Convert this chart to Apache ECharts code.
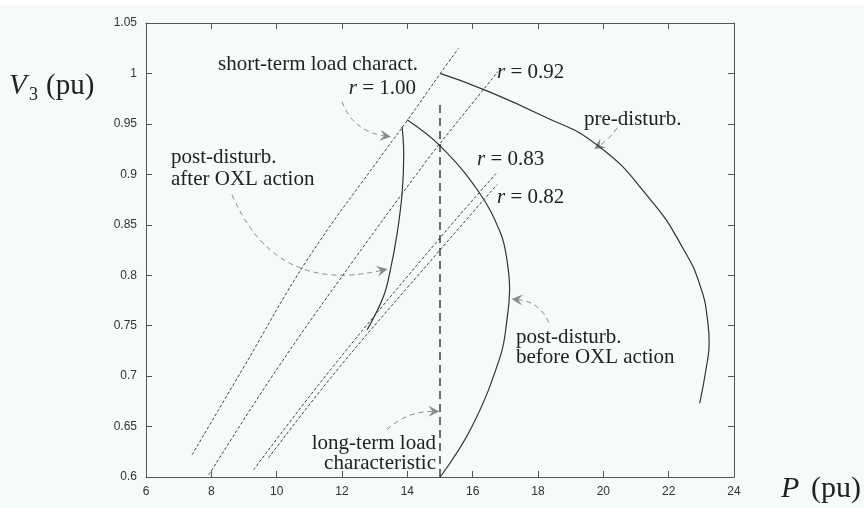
<!DOCTYPE html>
<html>
<head>
<meta charset="utf-8">
<script src="https://cdn.jsdelivr.net/npm/echarts@6.0.0/dist/echarts.min.js"></script>
<style>
    html, body { margin: 0; padding: 0; background: #f6faf8; }
    #chart { width: 864px; height: 508px; }
</style>
</head>
<body>
<div id="chart"></div>
<script>
// axis ranges / ticks
const xRange = [6, 24];
const xStep = 2;
const yRange = [0.6, 1.05];
const yStep = 0.05;

// PV curves, [P (pu), V3 (pu)]
const preDisturb = [
    [15.0, 1.0], [16.34, 0.984], [18.07, 0.959], [19.81, 0.929], [21.44, 0.875],
    [22.45, 0.826], [22.97, 0.789], [23.2, 0.753], [23.24, 0.733], [23.16, 0.71],
    [22.95, 0.673]
];
const postBeforeOxl = [
    [13.99, 0.954], [15.01, 0.928], [16.18, 0.883], [16.85, 0.842], [17.05, 0.815],
    [17.13, 0.786], [17.05, 0.756], [16.85, 0.72], [15.98, 0.65], [15.01, 0.6]
];
const postAfterOxl = [
    [13.84, 0.947], [13.89, 0.92], [13.84, 0.881], [13.69, 0.842],
    [13.48, 0.805], [13.27, 0.779], [12.77, 0.746]
];

// short-term load characteristics
const shortR100 = [[7.41, 0.622], [8.94, 0.706], [10.93, 0.815], [13.33, 0.924], [13.99, 0.953], [15.01, 1.0], [15.57, 1.025]];
const shortR092 = [[7.92, 0.602], [10.01, 0.707], [12.36, 0.815], [14.6, 0.914], [15.01, 0.931], [16.78, 1.002]];
const shortR083 = [[9.29, 0.607], [11.64, 0.706], [15.0, 0.837], [16.75, 0.902]];
const shortR082 = [[9.75, 0.619], [11.85, 0.706], [15.0, 0.825], [16.75, 0.89]];

// long-term load characteristic
const longTerm = [[15.0, 0.6], [15.0, 0.972]];

// annotation arrows: from, to
const arrowFrom = [[12.0, 0.972], [8.63, 0.88], [20.42, 0.946], [18.33, 0.753], [13.38, 0.647]];
const arrowTo = [[13.33, 0.938], [13.23, 0.805], [19.86, 0.928], [17.36, 0.776], [14.81, 0.665]];
const arrowBend = [-0.3, -0.42, 0.1, -0.3, 0.2];

const SERIF = '"Liberation Serif", "DejaVu Serif", serif';
const SANS = '"Liberation Sans", Arial, sans-serif';
const INK = '#222';
const FS = 21;

const axisBase = {
    type: 'value',
    axisLine: { show: true, onZero: false, lineStyle: { color: '#555', width: 1 } },
    axisTick: { show: true, inside: true, length: 6, lineStyle: { color: '#555' } },
    splitLine: { show: false }
};

const tickLabel = {
    color: '#333',
    fontFamily: SANS,
    fontSize: 12
};

const curve = (data, style, smooth) => ({
    type: 'line',
    data: data,
    smooth: smooth || 0.4,
    symbol: 'none',
    silent: true,
    lineStyle: Object.assign({ color: '#333', width: 1.2 }, style)
});

// text helper
const txt = (x, y, text, align, extra) => ({
    type: 'text',
    x: x,
    y: y,
    silent: true,
    style: Object.assign({
        text: text,
        fill: INK,
        font: FS + 'px ' + SERIF,
        fontFamily: SERIF,
        fontSize: FS,
        align: align,
        textAlign: align,
        verticalAlign: 'middle',
        textVerticalAlign: 'middle'
    }, extra || {})
});

const rItalic = { r: { fontStyle: 'italic', fontFamily: SERIF, fontSize: FS, fill: INK, color: INK } };
const rLabel = (x, y, value, align) => txt(x, y, '{r|r} = ' + value, align, { rich: rItalic });

const chart = echarts.init(document.getElementById('chart'), null, { renderer: 'canvas' });

chart.setOption({
    animation: false,
    backgroundColor: '#f6faf8',
    grid: { left: 146, top: 23, width: 588, height: 454, containLabel: false },
    xAxis: [
        Object.assign({}, axisBase, {
            min: xRange[0], max: xRange[1], interval: xStep, position: 'bottom',
            axisLabel: Object.assign({ margin: 9 }, tickLabel)
        }),
        Object.assign({}, axisBase, {
            min: xRange[0], max: xRange[1], interval: xStep, position: 'top',
            axisLabel: { show: false }
        })
    ],
    yAxis: [
        Object.assign({}, axisBase, {
            min: yRange[0], max: yRange[1], interval: yStep, position: 'left',
            axisLabel: Object.assign({ margin: 9, formatter: v => String(+v.toFixed(2)) }, tickLabel)
        }),
        Object.assign({}, axisBase, {
            min: yRange[0], max: yRange[1], interval: yStep, position: 'right',
            axisLabel: { show: false }
        })
    ],
    series: [
        curve(preDisturb, null, 0.5),
        curve(postBeforeOxl),
        curve(postAfterOxl),
        curve(shortR100, { type: [3, 2], width: 1, color: '#444' }),
        curve(shortR092, { type: [3, 2], width: 1, color: '#444' }),
        curve(shortR083, { type: [3, 2], width: 1, color: '#444' }),
        curve(shortR082, { type: [3, 2], width: 1, color: '#444' }),
        {
            type: 'line',
            data: longTerm,
            symbol: 'none',
            silent: true,
            lineStyle: { color: '#222', width: 1.3, type: [8, 5] }
        },
        {
            type: 'lines',
            coordinateSystem: 'cartesian2d',
            silent: true,
            symbol: ['none', 'path://M0,10 L5,0 L10,10 L5,6 Z'],
            symbolSize: [9, 11],
            lineStyle: { color: '#8a8a8a', width: 1, type: [5, 4], opacity: 1 },
            data: arrowFrom.map((p, i) => ({
                coords: [p, arrowTo[i]],
                lineStyle: { curveness: arrowBend[i] }
            }))
        }
    ],
    graphic: [
        { type: 'rect', shape: { x: 0, y: 0, width: 864, height: 5 }, style: { fill: '#ffffff' }, silent: true },
        txt(418, 64, 'short-term load charact.', 'right'),
        rLabel(416, 88, '1.00', 'right'),
        rLabel(497, 72, '0.92', 'left'),
        txt(584, 119, 'pre-disturb.', 'left'),
        rLabel(477, 159, '0.83', 'left'),
        rLabel(497, 197, '0.82', 'left'),
        txt(171, 168, 'post-disturb.\nafter OXL action', 'left', { lineHeight: 22 }),
        txt(516, 347, 'post-disturb.\nbefore OXL action', 'left', { lineHeight: 20 }),
        txt(436, 453, 'long-term load\ncharacteristic', 'right', { lineHeight: 20 }),
        // axis titles
        txt(9, 86, 'V', 'left', { font: 'italic 29px ' + SERIF, fontStyle: 'italic', fontSize: 29 }),
        txt(29, 95, '3', 'left', { font: '18px ' + SERIF, fontSize: 18 }),
        txt(46, 86, '(pu)', 'left', { font: '29px ' + SERIF, fontSize: 29 }),
        txt(781, 489, 'P', 'left', { font: 'italic 30px ' + SERIF, fontStyle: 'italic', fontSize: 30 }),
        txt(811, 489, '(pu)', 'left', { font: '30px ' + SERIF, fontSize: 30 })
    ]
});
</script>
</body>
</html>
